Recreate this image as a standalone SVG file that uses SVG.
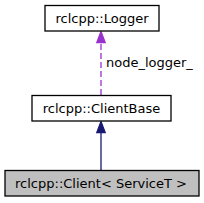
<svg xmlns="http://www.w3.org/2000/svg" width="204" height="203" viewBox="0 0 204 203">
<style>
text{font-family:"DejaVu Sans",sans-serif;font-size:13px;fill:#000}
.box{fill:#fff;stroke:#000;stroke-width:1.3}
</style>
<g id="connectors">
<path d="M101,95 L101,42" fill="none" stroke="#9a32cd" stroke-dasharray="6,3" stroke-width="1.3"/>
<polygon points="101,31.5 96.8,42.5 105.2,42.5" fill="#9a32cd" stroke="#9a32cd" stroke-width="1.3"/>
<text x="106" y="67">node_logger_</text>
<path d="M101,170 L101,132" fill="none" stroke="#191970" stroke-width="1.3"/>
<polygon points="101,121.5 96.8,132.5 105.2,132.5" fill="#191970" stroke="#191970" stroke-width="1.3"/>
</g>
<g id="node-logger">
<rect class="box" x="45" y="5.5" width="114" height="25.5"/>
<text x="102" y="23" text-anchor="middle">rclcpp::Logger</text>
</g>
<g id="node-clientbase">
<rect class="box" x="32" y="95.5" width="139" height="25.5"/>
<text x="101.5" y="113" text-anchor="middle">rclcpp::ClientBase</text>
</g>
<g id="node-client">
<rect x="5" y="170.5" width="194" height="25.5" fill="#bfbfbf" stroke="#000" stroke-width="1.3"/>
<text x="101" y="188" text-anchor="middle">rclcpp::Client&lt; ServiceT &gt;</text>
</g>
</svg>
